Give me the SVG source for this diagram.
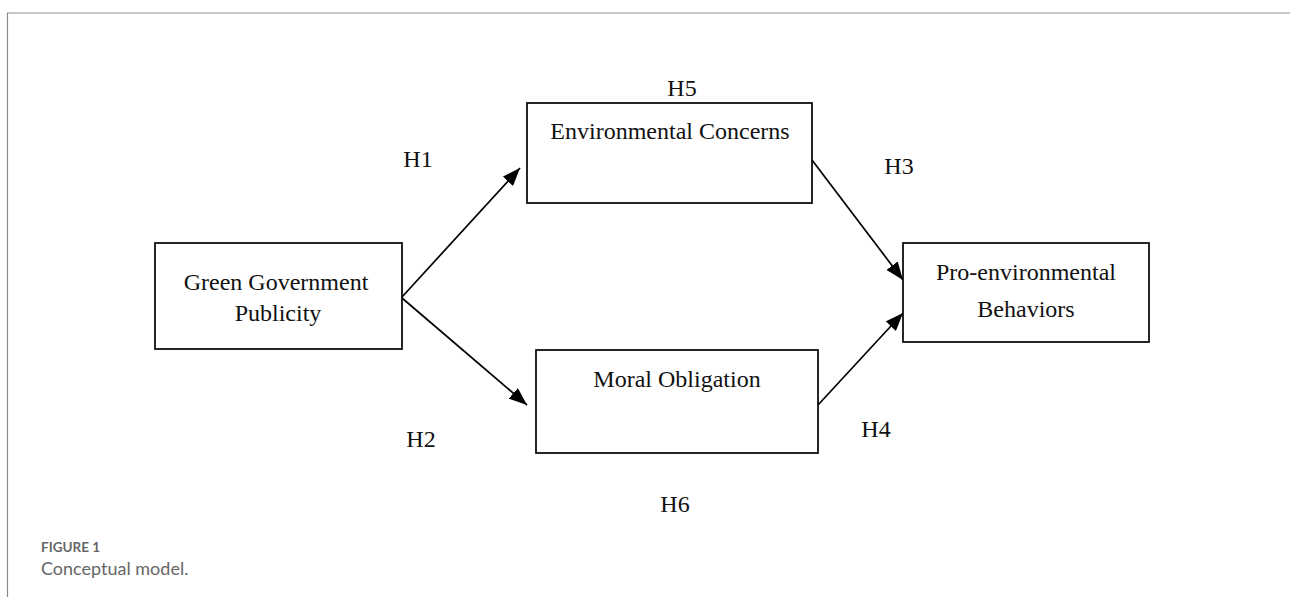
<svg xmlns="http://www.w3.org/2000/svg" width="1290" height="597" viewBox="0 0 1290 597">
<style>
.box{fill:#fff;stroke:#000;stroke-width:1.7}
.t{font-family:"Liberation Serif","Times New Roman",serif;font-size:24px;fill:#111;text-anchor:middle}
.c{stroke:#000;stroke-width:1.7;fill:none;marker-end:url(#ah)}
.cap1{font-family:"Lato","Open Sans",sans-serif;font-size:13.5px;font-weight:bold;fill:#666}
.cap2{font-family:"Lato","Open Sans",sans-serif;font-size:18px;fill:#666}
</style>
<defs>
<marker id="ah" markerWidth="18" markerHeight="14" refX="18" refY="7" orient="auto" markerUnits="userSpaceOnUse">
<path d="M0,0 L18,7 L0,14 Z" fill="#000"/>
</marker>
</defs>
<rect width="1290" height="597" fill="#fff"/>
<line x1="7" y1="13" x2="1290" y2="13" stroke="#b5b5b5" stroke-width="1.5"/>
<line x1="7.5" y1="13" x2="7.5" y2="597" stroke="#8a8a8a" stroke-width="1.2"/>
<g id="connectors">
<line class="c" x1="402" y1="297" x2="520" y2="168"/>
<line class="c" x1="402" y1="298" x2="527" y2="405"/>
<line class="c" x1="812" y1="160" x2="903" y2="280"/>
<line class="c" x1="818" y1="405" x2="903" y2="313"/>
</g>
<g id="node-ggp">
<rect class="box" x="155" y="243" width="247" height="106"/>
<text class="t" x="276" y="290">Green Government</text>
<text class="t" x="278" y="321">Publicity</text>
</g>
<g id="node-ec">
<rect class="box" x="527" y="103" width="285" height="100"/>
<text class="t" x="670" y="139">Environmental Concerns</text>
</g>
<g id="node-mo">
<rect class="box" x="536" y="350" width="282" height="103"/>
<text class="t" x="677" y="387">Moral Obligation</text>
</g>
<g id="node-peb">
<rect class="box" x="903" y="243" width="246" height="99"/>
<text class="t" x="1026" y="280">Pro-environmental</text>
<text class="t" x="1026" y="317">Behaviors</text>
</g>
<g id="labels">
<text class="t" x="682" y="96">H5</text>
<text class="t" x="418" y="167">H1</text>
<text class="t" x="899" y="174">H3</text>
<text class="t" x="421" y="447">H2</text>
<text class="t" x="876" y="437">H4</text>
<text class="t" x="675" y="512">H6</text>
</g>
<text class="cap1" x="41" y="552">FIGURE 1</text>
<text class="cap2" x="41" y="575">Conceptual model.</text>
</svg>
